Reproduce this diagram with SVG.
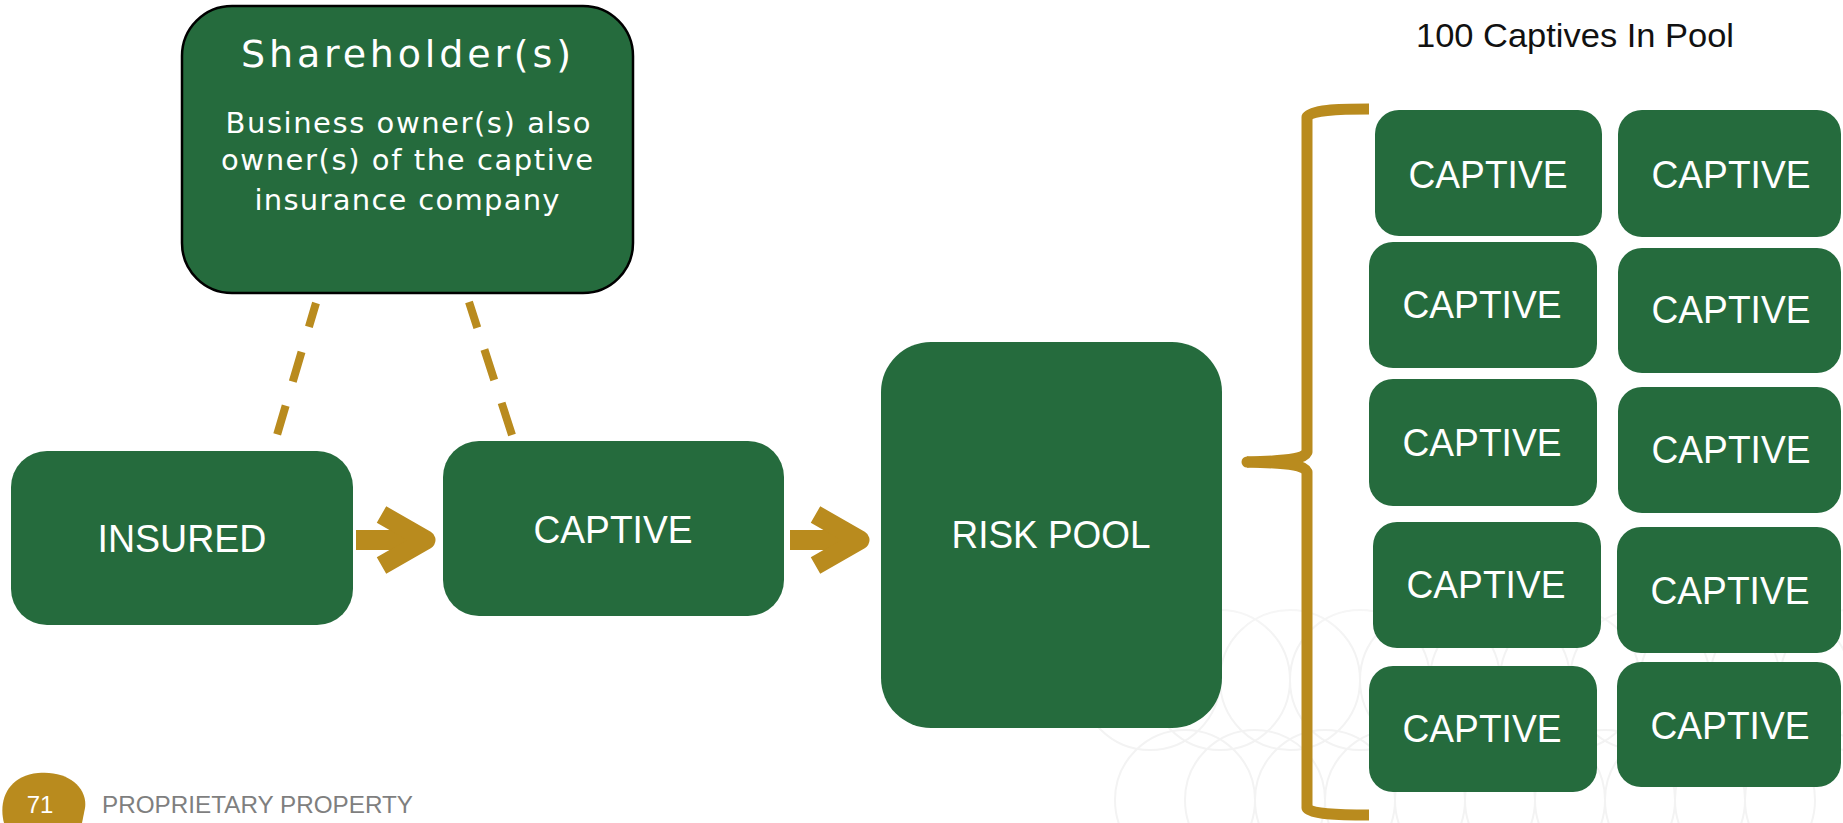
<svg xmlns="http://www.w3.org/2000/svg" width="1843" height="823" viewBox="0 0 1843 823">
  <defs>
    <style>
      .box { fill: #256b3d; }
      .owner { fill: #256b3d; stroke: #000; stroke-width: 2.5; }
      .lbl { fill: #fff; font-family: "Liberation Sans", Arial, sans-serif; text-anchor: middle; }
      .gothic { fill: #fff; font-family: "DejaVu Sans", "Liberation Sans", sans-serif; text-anchor: middle; }
      .gold { fill: #b98b1e; }
      .dash { stroke: #b98b1e; stroke-width: 8; fill: none; }
      .brace { stroke: #b98b1e; stroke-width: 11; fill: none; stroke-linecap: butt; stroke-linejoin: round; }
      .lattice { fill: none; stroke: #f3f3f3; stroke-width: 2; }
    </style>
    <!-- block arrow, tip at origin, pointing right -->
    <g id="blockArrow">
      <rect x="-80" y="-10" width="62" height="20" fill="#b98b1e"/>
      <polyline points="-54.5,-25.5 -10,0 -54.5,25.5" fill="none" stroke="#b98b1e" stroke-width="19" stroke-linejoin="round" stroke-linecap="butt"/>
    </g>
    <linearGradient id="fadeUp" x1="0" y1="0" x2="0" y2="1">
      <stop offset="0" stop-color="#fff" stop-opacity="0"/>
      <stop offset="0.45" stop-color="#fff" stop-opacity="1"/>
      <stop offset="1" stop-color="#fff" stop-opacity="1"/>
    </linearGradient>
    <mask id="latticeMask">
      <rect x="1080" y="500" width="763" height="323" fill="url(#fadeUp)"/>
    </mask>
  </defs>

  <rect width="1843" height="823" fill="#fff"/>

  <!-- faint background lattice -->
  <g class="lattice" mask="url(#latticeMask)">
    <circle cx="1150" cy="680" r="70"/><circle cx="1220" cy="680" r="70"/><circle cx="1290" cy="680" r="70"/>
    <circle cx="1360" cy="680" r="70"/><circle cx="1430" cy="680" r="70"/><circle cx="1500" cy="680" r="70"/>
    <circle cx="1570" cy="680" r="70"/><circle cx="1640" cy="680" r="70"/><circle cx="1710" cy="680" r="70"/>
    <circle cx="1780" cy="680" r="70"/><circle cx="1850" cy="680" r="70"/>
    <circle cx="1185" cy="800" r="70"/><circle cx="1255" cy="800" r="70"/><circle cx="1325" cy="800" r="70"/>
    <circle cx="1395" cy="800" r="70"/><circle cx="1465" cy="800" r="70"/><circle cx="1535" cy="800" r="70"/>
    <circle cx="1605" cy="800" r="70"/><circle cx="1675" cy="800" r="70"/><circle cx="1745" cy="800" r="70"/>
    <circle cx="1815" cy="800" r="70"/>
  </g>

  <!-- connectors -->
  <g id="connectors">
    <path class="dash" d="M316,303 L277,435" stroke-dasharray="25 26 31 25 30"/>
    <path class="dash" d="M469,302 L512,435" stroke-dasharray="27 23 32 24 34"/>
    <use href="#blockArrow" transform="translate(436,540)"/>
    <use href="#blockArrow" transform="translate(870,540)"/>
    <path class="brace" d="M1369,109 C1335,109 1312,110 1307,117 L1307,452 C1304,459 1290,461 1247,462"/>
    <path class="brace" d="M1247,462 C1290,463 1304,465 1307,472 L1307,808 C1312,814 1335,815 1369,815"/>
    <circle cx="1247" cy="462" r="5.5" class="gold"/>
  </g>

  <!-- owner node -->
  <g id="shareholders">
    <rect class="owner" x="182" y="6" width="451" height="287" rx="50"/>
    <text class="gothic" x="406" y="67" font-size="38" textLength="330" lengthAdjust="spacing">Shareholder(s)</text>
    <text class="gothic" x="408" y="133" font-size="29" textLength="365" lengthAdjust="spacing">Business owner(s) also</text>
    <text class="gothic" x="407" y="170" font-size="29" textLength="372" lengthAdjust="spacing">owner(s) of the captive</text>
    <text class="gothic" x="407" y="210" font-size="29" textLength="305" lengthAdjust="spacing">insurance company</text>
  </g>

  <g id="insured">
    <rect class="box" x="11" y="451" width="342" height="174" rx="36"/>
    <text class="lbl" x="182" y="552" font-size="38" textLength="169" lengthAdjust="spacingAndGlyphs">INSURED</text>
  </g>

  <g id="captive">
    <rect class="box" x="443" y="441" width="341" height="175" rx="36"/>
    <text class="lbl" x="613" y="543" font-size="38" textLength="159" lengthAdjust="spacingAndGlyphs">CAPTIVE</text>
  </g>

  <g id="risk-pool">
    <rect class="box" x="881" y="342" width="341" height="386" rx="50"/>
    <text class="lbl" x="1051" y="548" font-size="38" textLength="199" lengthAdjust="spacingAndGlyphs">RISK POOL</text>
  </g>

  <!-- pool heading -->
  <text id="pool-title" x="1575" y="47" font-family="Liberation Sans, Arial, sans-serif" font-size="34" fill="#111" text-anchor="middle" textLength="318" lengthAdjust="spacingAndGlyphs">100 Captives In Pool</text>

  <!-- pooled captives -->
  <g id="pool-captive-1">
    <rect class="box" x="1375" y="110" width="227" height="126" rx="24"/>
    <text class="lbl" x="1488" y="188" font-size="38" textLength="159" lengthAdjust="spacingAndGlyphs">CAPTIVE</text>
  </g>
  <g id="pool-captive-2">
    <rect class="box" x="1618" y="110" width="223" height="127" rx="24"/>
    <text class="lbl" x="1731" y="188" font-size="38" textLength="159" lengthAdjust="spacingAndGlyphs">CAPTIVE</text>
  </g>
  <g id="pool-captive-3">
    <rect class="box" x="1369" y="242" width="228" height="126" rx="24"/>
    <text class="lbl" x="1482" y="318" font-size="38" textLength="159" lengthAdjust="spacingAndGlyphs">CAPTIVE</text>
  </g>
  <g id="pool-captive-4">
    <rect class="box" x="1618" y="248" width="223" height="125" rx="24"/>
    <text class="lbl" x="1731" y="323" font-size="38" textLength="159" lengthAdjust="spacingAndGlyphs">CAPTIVE</text>
  </g>
  <g id="pool-captive-5">
    <rect class="box" x="1369" y="379" width="228" height="127" rx="24"/>
    <text class="lbl" x="1482" y="456" font-size="38" textLength="159" lengthAdjust="spacingAndGlyphs">CAPTIVE</text>
  </g>
  <g id="pool-captive-6">
    <rect class="box" x="1618" y="387" width="223" height="126" rx="24"/>
    <text class="lbl" x="1731" y="463" font-size="38" textLength="159" lengthAdjust="spacingAndGlyphs">CAPTIVE</text>
  </g>
  <g id="pool-captive-7">
    <rect class="box" x="1373" y="522" width="228" height="126" rx="24"/>
    <text class="lbl" x="1486" y="598" font-size="38" textLength="159" lengthAdjust="spacingAndGlyphs">CAPTIVE</text>
  </g>
  <g id="pool-captive-8">
    <rect class="box" x="1617" y="527" width="224" height="126" rx="24"/>
    <text class="lbl" x="1730" y="604" font-size="38" textLength="159" lengthAdjust="spacingAndGlyphs">CAPTIVE</text>
  </g>
  <g id="pool-captive-9">
    <rect class="box" x="1369" y="666" width="228" height="126" rx="24"/>
    <text class="lbl" x="1482" y="742" font-size="38" textLength="159" lengthAdjust="spacingAndGlyphs">CAPTIVE</text>
  </g>
  <g id="pool-captive-10">
    <rect class="box" x="1617" y="662" width="224" height="125" rx="24"/>
    <text class="lbl" x="1730" y="739" font-size="38" textLength="159" lengthAdjust="spacingAndGlyphs">CAPTIVE</text>
  </g>

  <!-- footer -->
  <g id="footer">
    <path class="gold" d="M4,823 C-2,800 8,776 38,773 C68,770 88,788 85,808 L82,823 Z"/>
    <text x="40" y="813" font-family="Liberation Sans, Arial, sans-serif" font-size="24" fill="#fff" text-anchor="middle">71</text>
    <text x="102" y="813" font-family="Liberation Sans, Arial, sans-serif" font-size="24" fill="#7f7f7f" textLength="311" lengthAdjust="spacingAndGlyphs">PROPRIETARY  PROPERTY</text>
  </g>
</svg>
